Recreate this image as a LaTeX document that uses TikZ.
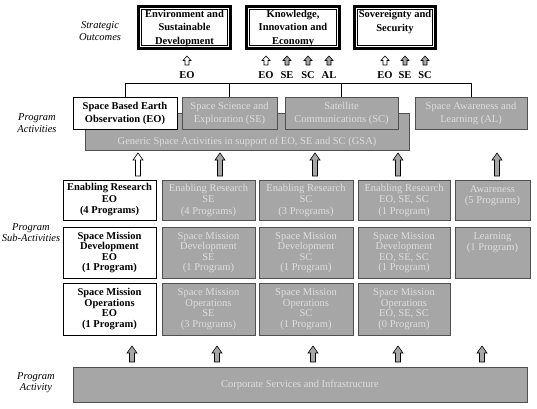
\documentclass[tikz,border=0pt]{standalone}
\usepackage{fontspec}
\setmainfont{Liberation Serif}
\usetikzlibrary{positioning}
\definecolor{boxgray}{RGB}{166,166,166}
\definecolor{textgray}{RGB}{222,222,222}
\definecolor{edgegray}{RGB}{80,80,80}

% block arrow: fill, x, top, bottom
\newcommand{\blockarr}[4]{%
  \draw[fill=#1, line width=0.6pt, line join=miter]
    (#2-2.5,#4) -- (#2-2.5,#3+7) -- (#2-5,#3+7) -- (#2,#3)
    -- (#2+5,#3+7) -- (#2+2.5,#3+7) -- (#2+2.5,#4) -- cycle;}
% small arrow: fill, x, top
\newcommand{\smallarr}[3]{%
  \draw[fill=#1, line width=0.6pt, line join=miter]
    (#2-2,#3+9) -- (#2-2,#3+4.5) -- (#2-4,#3+4.5) -- (#2,#3)
    -- (#2+4,#3+4.5) -- (#2+2,#3+4.5) -- (#2+2,#3+9) -- cycle;}

\begin{document}
\begin{tikzpicture}[x=1pt, y=-1pt,
  box/.style={align=center, inner sep=0pt, line width=0.7pt},
  wbox/.style={box, draw, fill=white, font=\bfseries\fontsize{10.5}{#1}\selectfont},
  wbox/.default=11,
  gbox/.style={box, draw=edgegray, fill=boxgray, text=textgray, font=\fontsize{10.5}{#1}\selectfont},
  gbox/.default=11,
  outcome/.style={draw, line width=3pt, outer sep=0pt, align=center, inner sep=0pt,
    minimum height=42pt, font=\bfseries\fontsize{10.5}{13.5}\selectfont},
  tag/.style={font=\bfseries\fontsize{10.5}{11}\selectfont, inner sep=0pt},
  side/.style={align=center, font=\itshape\fontsize{10.5}{11.5}\selectfont},
  bus/.style={line width=0.6pt}
]
\useasboundingbox (0,0) rectangle (537,408);

% strategic outcomes
\node[outcome, minimum width=92pt, text depth=0.5pt] (o1) at (184.5,27.5) {Environment and\\Sustainable\\Development};
\node[outcome, minimum width=93pt, text depth=0.5pt] (o2) at (293,27.5) {Knowledge,\\Innovation and\\Economy};
\node[outcome, minimum width=81pt, text depth=13pt] (o3) at (395,27.5) {Sovereignty and\\Security};
\foreach \o in {o1,o2,o3}
  \draw[line width=0.6pt] ([shift={(3,3)}]\o.north west) rectangle ([shift={(-3,-3)}]\o.south east);

\foreach \x/\t/\c in {187/EO/white, 266/EO/white, 287/SE/boxgray, 308/SC/boxgray, 329/AL/boxgray,
                      385/EO/white, 405/SE/boxgray, 425/SC/boxgray} {
  \smallarr{\c}{\x}{56}
  \node[tag] (lab\x) at (\x,75) {\t};
}

% program activities
\node[gbox, minimum width=324pt, minimum height=37pt, text height=28pt, text depth=2pt] (gsa) at (247,131.5)
  {Generic Space Activities in support of EO, SE and SC (GSA)};
\node[wbox=13, minimum width=104pt, minimum height=32pt] (eo) at (125,113) {Space Based Earth\\Observation (EO)};
\node[gbox=13, minimum width=95pt, minimum height=32pt] (se) at (229.5,113) {Space Science and\\Exploration (SE)};
\node[gbox=13, minimum width=113pt, minimum height=32pt] (sc) at (341.5,113) {Satellite\\Communications (SC)};
\node[gbox=13, minimum width=112pt, minimum height=32pt] (al) at (471,113) {Space Awareness and\\Learning (AL)};

\coordinate (top) at (0,83);
\draw[bus] (eo.north) |- (al.north |- top) -- (al.north);
\foreach \a in {se,sc}
  \draw[bus] (\a.north) -- (\a.north |- top);

\foreach \x/\c in {138/white, 220/boxgray, 315/boxgray, 398/boxgray, 497/boxgray}
  \blockarr{\c}{\x}{153}{176};

% program sub-activities
\node[wbox=11.5, minimum width=93pt, minimum height=40pt] (er1) at (109.5,200) {Enabling Research\\EO\\(4 Programs)};
\node[gbox=11.5, minimum width=93pt, minimum height=40pt] (er2) at (208.5,200) {Enabling Research\\SE\\(4 Programs)};
\node[gbox=11.5, minimum width=94pt, minimum height=40pt] (er3) at (306,200) {Enabling Research\\SC\\(3 Programs)};
\node[gbox=11.5, minimum width=92pt, minimum height=40pt] (er4) at (404,200) {Enabling Research\\EO, SE, SC\\(1 Program)};
\node[gbox=11.5, minimum width=75pt, minimum height=40pt, text depth=10.5pt] (aw) at (492.5,200) {Awareness\\(5 Programs)};

\node[wbox=10.5, minimum width=93pt, minimum height=51pt] (md1) at (109.5,252.5) {Space Mission\\Development\\EO\\(1 Program)};
\node[gbox=10.5, minimum width=93pt, minimum height=51pt] (md2) at (208.5,252.5) {Space Mission\\Development\\SE\\(1 Program)};
\node[gbox=10.5, minimum width=94pt, minimum height=51pt] (md3) at (306,252.5) {Space Mission\\Development\\SC\\(1 Program)};
\node[gbox=10.5, minimum width=92pt, minimum height=51pt] (md4) at (404,252.5) {Space Mission\\Development\\EO, SE, SC\\(1 Program)};
\node[gbox=10.5, minimum width=75pt, minimum height=51pt, text depth=22pt] (lr) at (492.5,252.5) {Learning\\(1 Program)};

\node[wbox=10.5, minimum width=93pt, minimum height=52pt] (mo1) at (109.5,309) {Space Mission\\Operations\\EO\\(1 Program)};
\node[gbox=10.5, minimum width=93pt, minimum height=52pt] (mo2) at (208.5,309) {Space Mission\\Operations\\SE\\(3 Programs)};
\node[gbox=10.5, minimum width=94pt, minimum height=52pt] (mo3) at (306,309) {Space Mission\\Operations\\SC\\(1 Program)};
\node[gbox=10.5, minimum width=92pt, minimum height=52pt] (mo4) at (404,309) {Space Mission\\Operations\\EO, SE, SC\\(0 Program)};

\foreach \x in {132, 217, 313, 398, 482}
  \blockarr{boxgray}{\x}{346}{362};

% program activity
\node[gbox, minimum width=454pt, minimum height=35pt] (corp) at (300,384.5) {Corporate Services and Infrastructure};

% row titles
\node[side] (t1) at (100,31) {Strategic\\Outcomes};
\node[side] (t2) at (37,123) {Program\\Activities};
\node[side] (t3) at (31,232.5) {Program\\Sub-Activities};
\node[side] (t4) at (36,382.5) {Program\\Activity};
\end{tikzpicture}
\end{document}
